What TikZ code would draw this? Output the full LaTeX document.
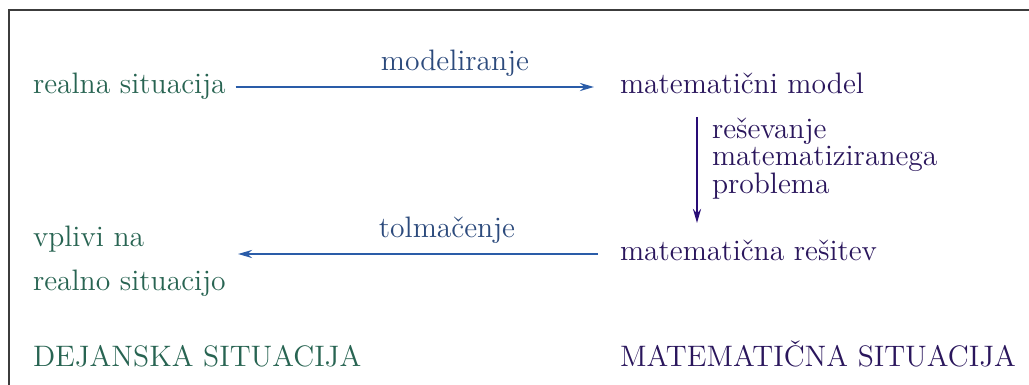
\documentclass[tikz,border=0pt]{standalone}
\usetikzlibrary{arrows.meta}
\definecolor{realgreen}{RGB}{40,100,82}
\definecolor{mathpurple}{RGB}{42,22,92}
\definecolor{arrowblue}{RGB}{42,92,168}
\definecolor{labelblue}{RGB}{44,74,124}
\definecolor{downarrow}{RGB}{40,12,118}
\definecolor{framegray}{RGB}{60,60,60}
\tikzset{
  txt/.style={inner sep=0pt, outer sep=0pt, font=\fontsize{14.8}{17}\selectfont},
  mainnode/.style={txt, anchor=west, text height=10pt, text depth=3pt},
  realtxt/.style={text=realgreen},
  mathtxt/.style={text=mathpurple},
  lbl/.style={txt, text=labelblue, anchor=base},
  harrow/.style={draw=arrowblue, line width=1.1pt, -{Stealth[length=7pt,width=4pt]}},
  varrow/.style={draw=downarrow, line width=1.1pt, -{Stealth[length=7pt,width=4pt]}},
  frame/.style={draw=framegray, line width=1.1pt}
}
\begin{document}
\begin{tikzpicture}[x=0.5pt,y=-0.5pt]
\useasboundingbox (0,0) rectangle (1029,385);
\draw[frame] (9,400) -- (9,10) -- (1040,10);
% nodes
\node[mainnode, realtxt] (rs) at (33,87) {realna situacija};
\node[mainnode, mathtxt] (mm) at (620,87) {matematični model};
\node[mainnode, mathtxt] (mr) at (620,254) {matematična rešitev};
\node[txt, realtxt, anchor=base west] (v1) at (33,246) {vplivi na};
\node[txt, realtxt, anchor=base west] (v2) at (33,290) {realno situacijo};
\node[txt, realtxt, anchor=base west] (ds) at (33,366) {DEJANSKA SITUACIJA};
\node[txt, mathtxt, anchor=base west] (ms) at (620,366) {MATEMATIČNA SITUACIJA};
% labels
\node[lbl] (lmod) at (455,71) {modeliranje};
\node[lbl] (ltol) at (447,237) {tolmačenje};
\node[txt, mathtxt, anchor=base west] (r1) at (712,139) {reševanje};
\node[txt, mathtxt, anchor=base west] (r2) at (712,166) {matematiziranega};
\node[txt, mathtxt, anchor=base west] (r3) at (712,193) {problema};
% coordinates
\coordinate (vs) at (697,117);
\coordinate (ve) at (697,223);
\coordinate (le) at (238,254);
% connectors
\draw[harrow, shorten <=5pt, shorten >=13pt] (rs.east) -- (mm.west);
\draw[varrow] (vs) -- (ve);
\draw[harrow, shorten <=11pt] (mr.west) -- (le);
\end{tikzpicture}
\end{document}
